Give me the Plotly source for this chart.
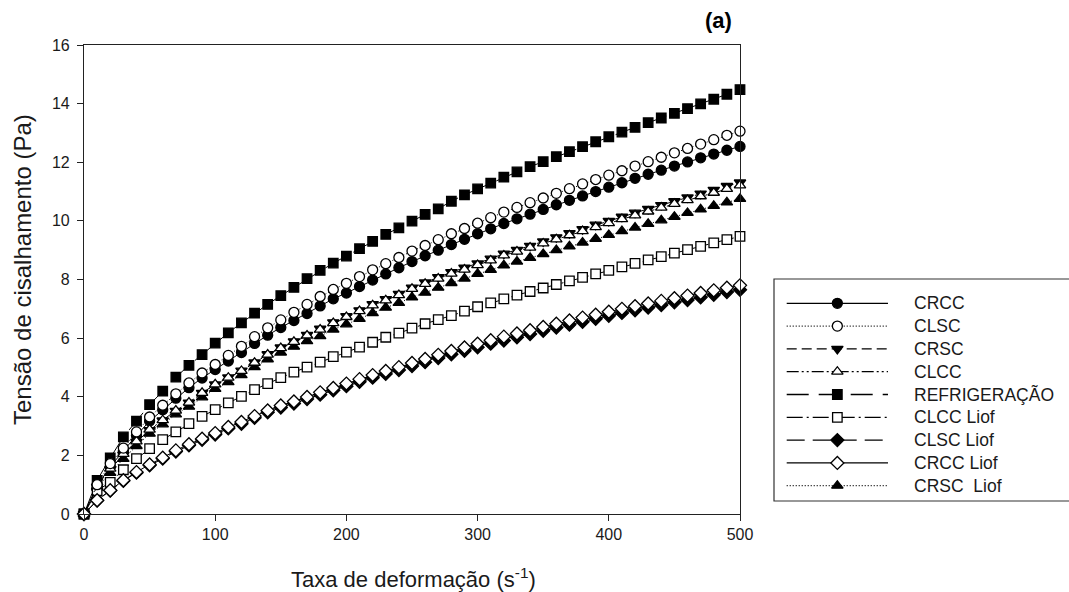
import plotly.graph_objects as go

# ---------------- data ----------------
shear_rate = [0, 10, 20, 30, 40, 50, 60, 70, 80, 90, 100, 110, 120, 130, 140, 150,
              160, 170, 180, 190, 200, 210, 220, 230, 240, 250, 260, 270, 280, 290,
              300, 310, 320, 330, 340, 350, 360, 370, 380, 390, 400, 410, 420, 430,
              440, 450, 460, 470, 480, 490, 500]

crcc = [0, 0.95, 1.62, 2.15, 2.68, 3.17, 3.56, 3.95, 4.31, 4.64, 4.93, 5.22, 5.51, 5.82,
        6.10, 6.36, 6.60, 6.84, 7.10, 7.34, 7.54, 7.76, 7.98, 8.19, 8.40, 8.61, 8.81,
        9.00, 9.19, 9.37, 9.56, 9.73, 9.91, 10.07, 10.23, 10.39, 10.55, 10.70, 10.85,
        11.00, 11.15, 11.30, 11.45, 11.59, 11.73, 11.87, 12.01, 12.15, 12.28, 12.41, 12.54]

clsc = [0, 1.00, 1.72, 2.25, 2.80, 3.31, 3.71, 4.10, 4.47, 4.81, 5.10, 5.41, 5.72, 6.05,
        6.35, 6.62, 6.88, 7.15, 7.42, 7.66, 7.87, 8.10, 8.33, 8.54, 8.75, 8.97, 9.16,
        9.36, 9.56, 9.74, 9.92, 10.11, 10.30, 10.46, 10.62, 10.78, 10.94, 11.10, 11.26,
        11.41, 11.56, 11.71, 11.87, 12.02, 12.17, 12.32, 12.47, 12.62, 12.77, 12.92, 13.06]

crsc = [0, 0.93, 1.52, 2.02, 2.46, 2.86, 3.19, 3.52, 3.80, 4.13, 4.42, 4.66, 4.89, 5.17,
        5.45, 5.68, 5.89, 6.11, 6.32, 6.54, 6.75, 6.95, 7.16, 7.33, 7.51, 7.72, 7.90,
        8.08, 8.25, 8.40, 8.55, 8.71, 8.88, 9.01, 9.15, 9.30, 9.44, 9.58, 9.72, 9.87,
        10.00, 10.14, 10.28, 10.41, 10.54, 10.67, 10.80, 10.93, 11.06, 11.19, 11.31]

clcc = [0, 0.95, 1.55, 2.05, 2.48, 2.88, 3.20, 3.53, 3.80, 4.13, 4.42, 4.65, 4.88, 5.16,
        5.44, 5.66, 5.87, 6.09, 6.29, 6.51, 6.72, 6.92, 7.12, 7.29, 7.47, 7.68, 7.85,
        8.03, 8.20, 8.34, 8.49, 8.65, 8.82, 8.95, 9.09, 9.23, 9.37, 9.51, 9.65, 9.79,
        9.92, 10.06, 10.19, 10.32, 10.45, 10.58, 10.71, 10.84, 10.96, 11.09, 11.21]

refrigeracao = [0, 1.15, 1.91, 2.63, 3.17, 3.73, 4.19, 4.67, 5.07, 5.44, 5.83, 6.18, 6.52,
                6.85, 7.15, 7.45, 7.73, 8.03, 8.31, 8.56, 8.80, 9.05, 9.30, 9.54, 9.76,
                9.99, 10.22, 10.41, 10.67, 10.89, 11.09, 11.29, 11.49, 11.67, 11.85, 12.02,
                12.19, 12.36, 12.53, 12.70, 12.87, 13.03, 13.19, 13.35, 13.51, 13.67, 13.83,
                13.99, 14.15, 14.32, 14.48]

clcc_liof = [0, 0.80, 1.08, 1.51, 1.89, 2.23, 2.54, 2.80, 3.08, 3.33, 3.56, 3.79, 4.01,
             4.24, 4.45, 4.65, 4.84, 5.01, 5.18, 5.37, 5.52, 5.69, 5.86, 6.03, 6.17, 6.34,
             6.49, 6.63, 6.77, 6.92, 7.07, 7.20, 7.34, 7.47, 7.59, 7.71, 7.83, 7.95, 8.07,
             8.19, 8.31, 8.43, 8.55, 8.67, 8.78, 8.90, 9.02, 9.13, 9.25, 9.36, 9.47]

clsc_liof = [0, 0.46, 0.80, 1.13, 1.41, 1.66, 1.89, 2.13, 2.34, 2.53, 2.71, 2.92, 3.08,
             3.28, 3.47, 3.63, 3.77, 3.92, 4.07, 4.22, 4.36, 4.51, 4.65, 4.78, 4.91, 5.05,
             5.18, 5.32, 5.45, 5.57, 5.69, 5.81, 5.92, 6.03, 6.14, 6.25, 6.36, 6.46, 6.56,
             6.66, 6.76, 6.86, 6.95, 7.04, 7.13, 7.22, 7.30, 7.39, 7.48, 7.57, 7.65]

crcc_liof = [0, 0.47, 0.81, 1.15, 1.43, 1.69, 1.92, 2.17, 2.38, 2.57, 2.76, 2.97, 3.14,
             3.34, 3.53, 3.70, 3.84, 3.99, 4.15, 4.30, 4.45, 4.60, 4.74, 4.88, 5.01, 5.15,
             5.29, 5.43, 5.56, 5.68, 5.81, 5.93, 6.05, 6.16, 6.27, 6.38, 6.49, 6.60, 6.70,
             6.80, 6.90, 7.00, 7.09, 7.18, 7.27, 7.36, 7.45, 7.54, 7.63, 7.72, 7.80]

crsc_liof = [0, 0.90, 1.40, 1.88, 2.32, 2.74, 3.06, 3.40, 3.66, 3.98, 4.27, 4.50, 4.74,
             5.01, 5.28, 5.51, 5.71, 5.90, 6.07, 6.29, 6.47, 6.66, 6.85, 7.04, 7.20, 7.39,
             7.55, 7.72, 7.88, 8.03, 8.19, 8.33, 8.48, 8.61, 8.74, 8.87, 9.00, 9.13, 9.26,
             9.39, 9.52, 9.65, 9.77, 9.90, 10.02, 10.14, 10.27, 10.39, 10.51, 10.63, 10.75]

legend_names = ["CRCC", "CLSC", "CRSC", "CLCC", "REFRIGERAÇÃO",
                "CLCC Liof", "CLSC Liof", "CRCC Liof", "CRSC  Liof"]
x_ticks = [0, 100, 200, 300, 400, 500]
y_ticks = [0, 2, 4, 6, 8, 10, 12, 14, 16]

# ---------------- styles ----------------
FONT = "Liberation Sans, Arial, sans-serif"
INK = "#1a1a1a"
series = {
    "CRCC": (crcc, "circle", "black", "solid", 10),
    "CLSC": (clsc, "circle", "white", "1px,2px", 10),
    "CRSC": (crsc, "triangle-down", "black", "10px,5px", 10),
    "CLCC": (clcc, "triangle-up", "white", "12px,3px,2px,3px,2px,3px", 10),
    "REFRIGERAÇÃO": (refrigeracao, "square", "black", "22px,10px", 9.5),
    "CLCC Liof": (clcc_liof, "square", "white", "16px,4px,2px,4px", 9.5),
    "CLSC Liof": (clsc_liof, "diamond", "black", "18px,8px", 10),
    "CRCC Liof": (crcc_liof, "diamond", "white", "solid", 10),
    "CRSC  Liof": (crsc_liof, "triangle-up", "black", "1px,2px", 10),
}
draw_order = ["REFRIGERAÇÃO", "CRCC", "CRSC", "CLSC Liof", "CRSC  Liof",
              "CLCC Liof", "CLCC", "CLSC", "CRCC Liof"]

W, H = 1069, 592
ML, MT, MB = 84, 45, 78
paper_w = W - ML
paper_h = H - MT - MB
plot_right = 740

fig = go.Figure()

for name in draw_order:
    vals, sym, fill, dash, size = series[name]
    fig.add_trace(go.Scatter(
        x=shear_rate, y=vals, mode="lines+markers", name=name, showlegend=False,
        cliponaxis=False,
        line=dict(color="black", width=1, dash=dash),
        marker=dict(symbol=sym, size=size, color=fill,
                    line=dict(color="black", width=1.3)),
        xaxis="x", yaxis="y"))

# ---------------- custom legend (its own little axes) ----------------
for i, name in enumerate(legend_names):
    vals, sym, fill, dash, size = series[name]
    fig.add_trace(go.Scatter(
        x=[0, 1], y=[i, i], mode="lines", showlegend=False, hoverinfo="skip",
        line=dict(color="black", width=1.3, dash=dash), xaxis="x2", yaxis="y2"))
    fig.add_trace(go.Scatter(
        x=[0.5], y=[i], mode="markers", showlegend=False, hoverinfo="skip",
        marker=dict(symbol=sym, size=size, color=fill,
                    line=dict(color="black", width=1.3)),
        xaxis="x2", yaxis="y2"))
    fig.add_annotation(x=1.234, y=i, xref="x2", yref="y2", text=name,
                       showarrow=False, xanchor="left", yanchor="middle",
                       font=dict(family=FONT, size=17.5, color=INK))

leg_left, leg_top, leg_bottom = 774, 279, 501
plot_bottom = MT + paper_h

fig.add_shape(type="rect", xref="paper", yref="paper",
              x0=(leg_left - ML) / paper_w, x1=1.03,
              y0=(plot_bottom - leg_bottom) / paper_h, y1=(plot_bottom - leg_top) / paper_h,
              line=dict(color="#333", width=1.2), fillcolor="rgba(0,0,0,0)")

axis_font = dict(family=FONT, size=16, color=INK)
fig.update_layout(
    width=W, height=H,
    margin=dict(l=ML, r=0, t=MT, b=MB, pad=0, autoexpand=False),
    paper_bgcolor="white", plot_bgcolor="white",
    xaxis=dict(domain=[0, (plot_right - ML) / paper_w], range=[0, 500],
               tickvals=x_ticks, ticks="outside", ticklen=6, tickwidth=1,
               tickcolor="#222", showline=True, linecolor="#222", linewidth=1.2,
               mirror=True, showgrid=False, zeroline=False, tickfont=axis_font,
               automargin=False),
    yaxis=dict(domain=[0, 1], range=[0, 16], tickvals=y_ticks, ticks="outside",
               ticklen=6, tickwidth=1, tickcolor="#222", showline=True,
               linecolor="#222", linewidth=1.2, mirror=True, showgrid=False,
               zeroline=False, tickfont=axis_font, ticklabelstandoff=4,
               automargin=False),
    xaxis2=dict(domain=[(leg_left - ML) / paper_w, 1], range=[-0.1254, 2.787],
                visible=False, fixedrange=True, anchor="y2", automargin=False),
    yaxis2=dict(domain=[(plot_bottom - leg_bottom) / paper_h, (plot_bottom - leg_top) / paper_h],
                range=[8.67, -1.066], visible=False, fixedrange=True, anchor="x2",
                automargin=False),
    showlegend=False,
)

fig.add_annotation(xref="paper", yref="paper", x=(413 - ML) / paper_w,
                   y=(plot_bottom - 578) / paper_h, text="Taxa de deformação (s<sup>-1</sup>)",
                   showarrow=False, xanchor="center", yanchor="middle",
                   font=dict(family=FONT, size=22, color=INK))
fig.add_annotation(xref="paper", yref="paper", x=(22 - ML) / paper_w,
                   y=(plot_bottom - 270) / paper_h,
                   text="Tensão de cisalhamento (Pa)", textangle=-90, showarrow=False,
                   xanchor="center", yanchor="middle",
                   font=dict(family=FONT, size=24, color=INK))
fig.add_annotation(xref="paper", yref="paper", x=(718 - ML) / paper_w,
                   y=(plot_bottom - 20) / paper_h, text="<b>(a)</b>", showarrow=False,
                   xanchor="center", yanchor="middle",
                   font=dict(family=FONT, size=22, color="black"))

fig.write_html("out.html")
